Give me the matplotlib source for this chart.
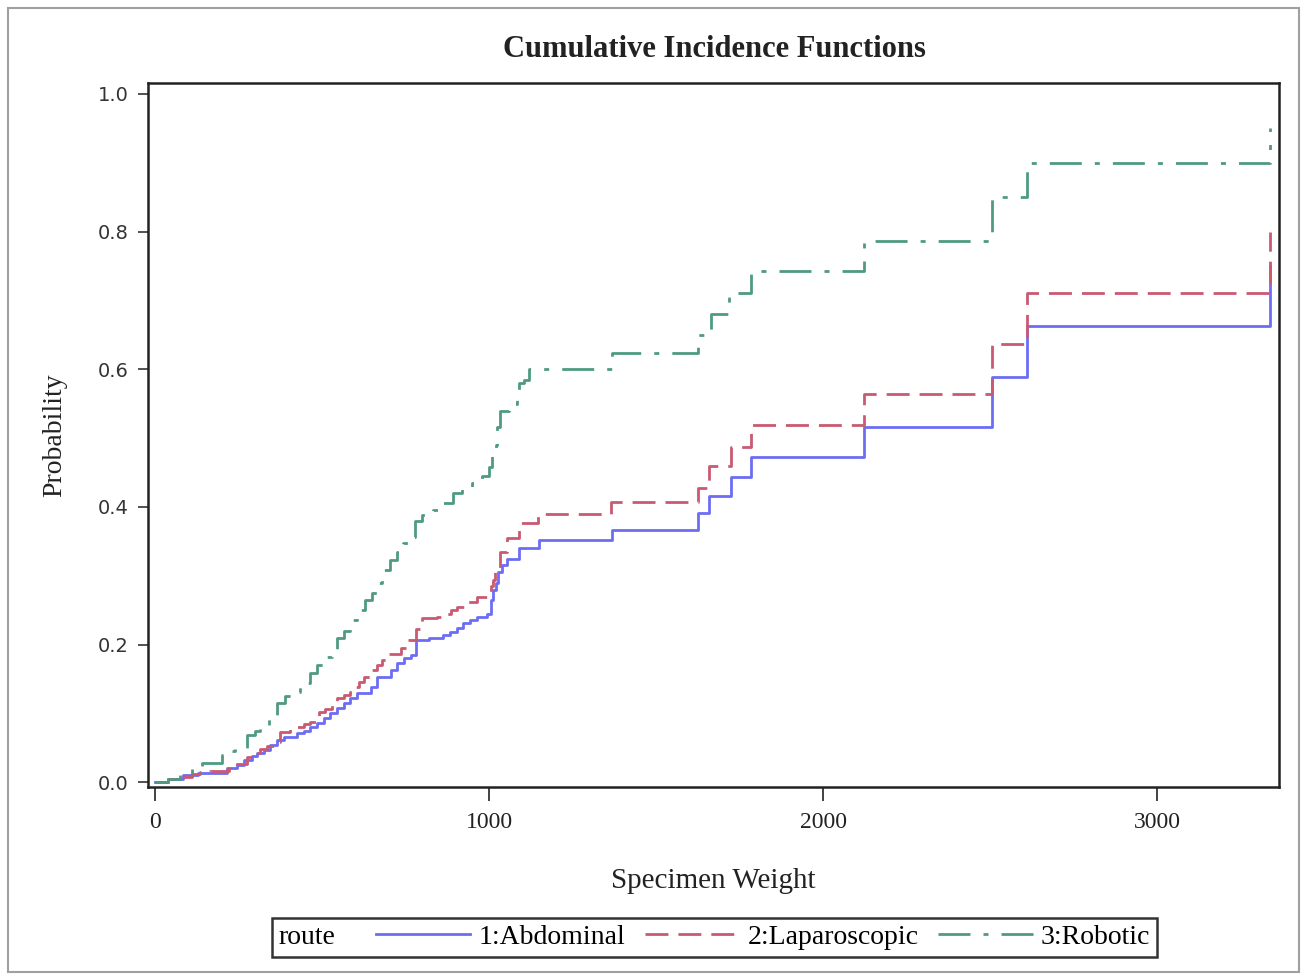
import matplotlib
matplotlib.use('Agg')
import matplotlib.pyplot as plt
from matplotlib.offsetbox import HPacker
from matplotlib.patches import Rectangle

plt.rcParams['font.family'] = ['Liberation Serif', 'DejaVu Serif']
plt.rcParams['lines.scale_dashes'] = False

# Cumulative incidence step data
abd_x = [0, 40, 85, 130, 215, 245, 265, 290, 305, 325, 345, 365, 385, 425, 445,
         465, 485, 505, 525, 545, 565, 585, 605, 645, 665, 705, 725, 745, 765, 780,
         820, 863, 884, 905, 923, 944, 965, 995, 1005, 1012, 1020, 1028, 1040, 1055,
         1088, 1148, 1369, 1624, 1657, 1723, 1783, 2122, 2505, 2610, 3336]
abd_y = [0, 0.005, 0.01, 0.013, 0.02, 0.025, 0.032, 0.038, 0.042, 0.047, 0.054,
         0.061, 0.065, 0.071, 0.075, 0.08, 0.086, 0.093, 0.1, 0.108, 0.115, 0.122,
         0.129, 0.138, 0.153, 0.163, 0.173, 0.18, 0.185, 0.207, 0.21, 0.214, 0.218,
         0.224, 0.231, 0.235, 0.24, 0.245, 0.265, 0.28, 0.29, 0.305, 0.315, 0.325,
         0.34, 0.352, 0.366, 0.391, 0.416, 0.443, 0.472, 0.516, 0.589, 0.663, 0.75]

lap_x = [0, 40, 85, 110, 135, 165, 220, 240, 275, 295, 315, 335, 365, 375, 405,
         425, 445, 465, 490, 510, 530, 545, 565, 585, 595, 610, 625, 650, 665, 680,
         695, 735, 750, 780, 800, 845, 865, 885, 905, 930, 965, 998, 1005, 1013,
         1019, 1034, 1055, 1088, 1145, 1364, 1624, 1657, 1723, 1783, 2122, 2505,
         2610, 3336]
lap_y = [0, 0.004, 0.008, 0.012, 0.015, 0.016, 0.022, 0.027, 0.036, 0.042, 0.049,
         0.053, 0.058, 0.073, 0.078, 0.08, 0.084, 0.087, 0.102, 0.107, 0.112, 0.122,
         0.127, 0.131, 0.138, 0.145, 0.153, 0.163, 0.17, 0.177, 0.187, 0.195, 0.206,
         0.222, 0.238, 0.24, 0.245, 0.25, 0.254, 0.262, 0.269, 0.275, 0.285, 0.294,
         0.308, 0.334, 0.355, 0.376, 0.39, 0.407, 0.427, 0.46, 0.487, 0.519, 0.564,
         0.637, 0.711, 0.80]

rob_x = [0, 40, 75, 111, 140, 200, 225, 240, 275, 300, 315, 340, 365, 390, 410,
         434, 465, 485, 505, 530, 545, 565, 585, 605, 630, 650, 665, 680, 704, 725,
         743, 773, 779, 800, 833, 863, 893, 920, 948, 978, 1000, 1010, 1020, 1024,
         1034, 1060, 1084, 1090, 1105, 1118, 1369, 1624, 1663, 1717, 1783, 2122,
         2505, 2610, 3336]
rob_y = [0, 0.005, 0.01, 0.02, 0.028, 0.04, 0.045, 0.05, 0.068, 0.075, 0.083,
         0.095, 0.115, 0.125, 0.131, 0.144, 0.158, 0.17, 0.182, 0.192, 0.21, 0.22,
         0.235, 0.25, 0.265, 0.275, 0.29, 0.308, 0.323, 0.335, 0.347, 0.356, 0.38,
         0.388, 0.395, 0.405, 0.42, 0.428, 0.435, 0.445, 0.458, 0.475, 0.49, 0.516,
         0.54, 0.55, 0.555, 0.58, 0.585, 0.6, 0.624, 0.65, 0.68, 0.711, 0.743,
         0.786, 0.85, 0.90, 0.95]

route_labels = ['1:Abdominal', '2:Laparoscopic', '3:Robotic']
x_ticks = [0, 1000, 2000, 3000]
y_ticks = [0.0, 0.2, 0.4, 0.6, 0.8, 1.0]

fig = plt.figure(figsize=(13.04, 9.76), dpi=100)
ax = fig.add_axes([0.1135, 0.1936, 0.8675, 0.7214])

l1, = ax.step(abd_x, abd_y, where='post', color='#6c6cf4', lw=2.0)
l2, = ax.step(lap_x, lap_y, where='post', color='#c95a72', lw=2.0,
              dashes=(16.5, 7.2))
l3, = ax.step(rob_x, rob_y, where='post', color='#4f9a80', lw=2.0,
              dashes=(23, 9.4, 3.6, 9.4))

ax.set_xlim(-21, 3365)
ax.set_ylim(-0.007, 1.016)
ax.set_xticks(x_ticks, labels=[str(v) for v in x_ticks])
ax.set_yticks(y_ticks, labels=[f'{v:.1f}' for v in y_ticks],
              fontfamily='DejaVu Sans')
ax.tick_params(axis='x', length=10, width=1.2, pad=8, labelsize=17,
               colors='#222222')
ax.tick_params(axis='y', length=7, width=1.2, pad=7, labelsize=14,
               colors='#333333')
for s in ax.spines.values():
    s.set_linewidth(1.8)
    s.set_color('#222222')

ax.set_xlabel('Specimen Weight', fontsize=21, color='#222222')
ax.xaxis.set_label_coords(0.5, -0.133)
ax.xaxis.label.set_va('center')
ax.set_ylabel('Probability', fontsize=20, color='#222222')
ax.yaxis.set_label_coords(-0.0822, 0.5)
ax.yaxis.label.set_va('center')

fig.text(0.548, 0.949, 'Cumulative Incidence Functions', ha='center',
         va='center', fontsize=22, fontweight='bold', color='#222222')

# legend with the "route" title placed to the left of the entries
fs = 20
leg = fig.legend([l1, l2, l3], route_labels, title='route', ncol=3,
                 loc='lower center', bbox_to_anchor=(0.548, 0.0195),
                 fontsize=fs, title_fontsize=fs, handlelength=3.4,
                 handletextpad=0.3, columnspacing=0.7, borderpad=0.25,
                 borderaxespad=0, fancybox=False, edgecolor='#333333',
                 framealpha=1)
leg.get_frame().set_linewidth(1.8)
box = HPacker(pad=leg.borderpad * fs, sep=29, align='center',
              children=[leg._legend_title_box, leg._legend_handle_box])
box.set_figure(fig)
box.set_offset(leg._findoffset)
leg._legend_box = box

fig.patches.append(Rectangle((0.006, 0.004), 0.99, 0.988,
                             transform=fig.transFigure, fill=False,
                             ec='#a0a0a0', lw=1.5))

fig.savefig('out.png', dpi=100)
